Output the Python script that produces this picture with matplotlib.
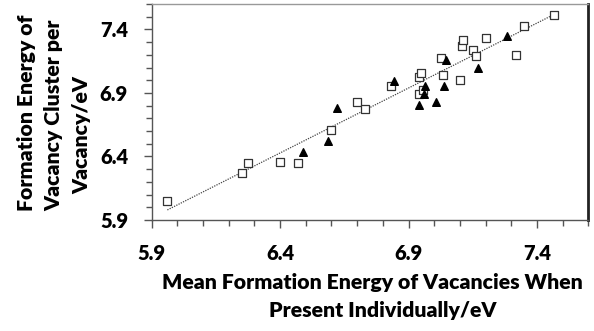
import matplotlib
matplotlib.use("Agg")
import matplotlib.pyplot as plt
import numpy as np
from matplotlib.ticker import MultipleLocator, FixedLocator

# ---- data ----
square_x = [5.961, 6.253, 6.274, 6.400, 6.469, 6.599, 6.701, 6.730, 6.833, 6.939,
            6.950, 6.939, 6.956, 7.027, 7.033, 7.099, 7.108, 7.114, 7.151, 7.164,
            7.200, 7.319, 7.351, 7.468]
square_y = [6.049, 6.272, 6.345, 6.353, 6.348, 6.612, 6.827, 6.770, 6.955, 7.026,
            7.057, 6.890, 6.921, 7.175, 7.039, 7.000, 7.272, 7.314, 7.241, 7.194,
            7.332, 7.196, 7.426, 7.513]
tri_x = [6.490, 6.586, 6.621, 6.842, 6.942, 6.959, 6.966, 7.008, 7.039, 7.044,
         7.170, 7.282]
tri_y = [6.437, 6.521, 6.785, 6.994, 6.809, 6.895, 6.955, 6.827, 6.958, 7.157,
         7.100, 7.345]
trend_slope = 1.022
trend_intercept = -0.113
trend_x_range = [5.961, 7.465]

major_ticks = [5.9, 6.4, 6.9, 7.4]
tick_labels = ["5.9", "6.4", "6.9", "7.4"]
x_label_lines = ["Mean Formation Energy of Vacancies When", "Present Individually/eV"]
y_label_lines = ["Formation Energy of", "Vacancy Cluster per", "Vacancy/eV"]

FONT = "Lato"
WEIGHT = 800
W, H = 594, 331
fig = plt.figure(figsize=(W / 100, H / 100), dpi=100)
ax = fig.add_axes([151.7 / W, 1 - 220 / H, (588.3 - 151.7) / W, 216 / H])

ax.set_xlim(5.9, 7.6)
ax.set_ylim(5.9, 7.6)

tx = np.array(trend_x_range)
ax.plot(tx, trend_slope * tx + trend_intercept, linestyle=(0, (1, 1)),
        color="#444444", linewidth=0.9, zorder=2)
ax.scatter(square_x, square_y, marker="s", s=30, facecolors="white",
           edgecolors="#333333", linewidths=0.9, zorder=3)
ax.scatter(tri_x, tri_y, marker="^", s=30, color="black", zorder=4)

for axis in (ax.xaxis, ax.yaxis):
    axis.set_major_locator(FixedLocator(major_ticks))
    axis.set_minor_locator(MultipleLocator(0.1))
ax.set_xticklabels(tick_labels)
ax.set_yticklabels(tick_labels)
ax.tick_params(which="major", direction="out", length=6, width=1.0, color="#555555",
               pad=11)
ax.tick_params(which="minor", direction="out", length=4, width=1.0, color="#555555")
for lab in ax.get_xticklabels() + ax.get_yticklabels():
    lab.set_fontfamily(FONT)
    lab.set_fontweight(WEIGHT)
    lab.set_fontsize(14.5)

ax.spines["left"].set_color("#555555")
ax.spines["bottom"].set_color("#555555")
ax.spines["left"].set_linewidth(1.0)
ax.spines["bottom"].set_linewidth(1.0)
ax.spines["top"].set_color("#999999")
ax.spines["top"].set_linewidth(1.0)
ax.spines["right"].set_color("#222222")
ax.spines["right"].set_linewidth(2.0)

# x label lines
fig.text(372.5 / W, 1 - 282 / H, x_label_lines[0], ha="center", va="center",
         fontfamily=FONT, fontweight=WEIGHT, fontsize=15.3)
fig.text(383 / W, 1 - 310 / H, x_label_lines[1], ha="center", va="center",
         fontfamily=FONT, fontweight=WEIGHT, fontsize=15.3)
# y label lines
for xc, yc, txt in zip([27, 54, 82], [112.5, 115, 135.5], y_label_lines):
    fig.text(xc / W, 1 - yc / H, txt, ha="center", va="center", rotation=90,
             fontfamily=FONT, fontweight=WEIGHT, fontsize=15.3)

fig.savefig("out.png", dpi=100)
